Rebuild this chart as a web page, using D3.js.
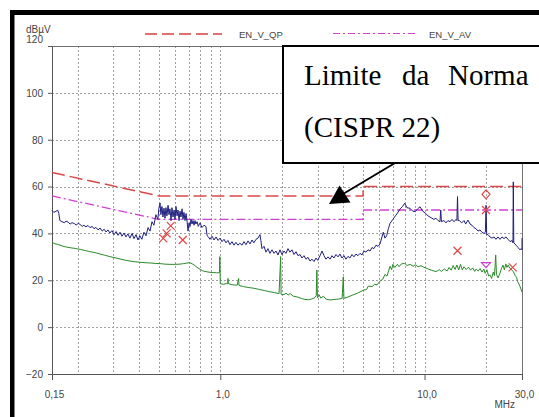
<!DOCTYPE html>
<html>
<head>
<meta charset="utf-8">
<script src="https://cdn.jsdelivr.net/npm/d3@7"></script>
<style>
  html, body { margin: 0; padding: 0; background: #fff; }
  svg { display: block; }
  text { font-family: "Liberation Sans", Arial, sans-serif; }
  text.note { font-family: "Liberation Serif", "Times New Roman", serif; }
</style>
</head>
<body>
<svg id="chart" width="539" height="417"></svg>
<script>
// Frequency axis (MHz) and level axis (dBµV)
const xDomain = [0.15, 30];
const yDomain = [-20, 120];
const xTickValues = [0.15, 1, 10, 30];
const xTickLabels = ["0,15", "1,0", "10,0", "30,0"];
const yTickValues = [-20, 0, 20, 40, 60, 80, 100, 120];
const xGridValues = [0.2, 0.3, 0.4, 0.5, 0.6, 0.7, 0.8, 0.9, 1, 2, 3, 4, 5, 6, 7, 8, 9, 10, 20];
const yGridValues = [0, 20, 40, 60, 80, 100];

// CISPR 22 class B conducted limits [MHz, dBµV]
const limitQP = [[0.15, 66], [0.5, 56], [5, 56], [5, 60], [30, 60]];
const limitAV = [[0.15, 56], [0.5, 46], [5, 46], [5, 50], [30, 50]];

// Peak scan [MHz, dBµV]
const peakScan = [
  [0.150,49.8],[0.153,49.0],[0.157,49.5],[0.160,49.9],[0.162,48.5],[0.164,45.5],[0.168,45.0],[0.172,44.6],
  [0.176,45.2],[0.180,44.8],[0.184,44.0],[0.188,44.6],[0.193,44.2],[0.197,43.6],[0.202,44.3],[0.206,43.8],
  [0.211,43.0],[0.215,43.5],[0.220,42.8],[0.225,43.4],[0.230,42.5],[0.236,43.0],[0.241,42.0],[0.246,42.6],
  [0.252,41.5],[0.258,42.3],[0.264,41.0],[0.270,41.8],[0.276,40.6],[0.282,41.5],[0.288,40.2],[0.295,41.2],
  [0.302,39.5],[0.309,40.8],[0.316,39.2],[0.323,40.5],[0.330,38.8],[0.338,40.2],[0.345,38.5],[0.353,39.8],
  [0.361,38.0],[0.370,40.0],[0.378,37.8],[0.387,39.5],[0.395,37.2],[0.404,39.0],[0.413,37.5],[0.423,40.5],
  [0.433,39.0],[0.443,42.5],[0.453,41.0],[0.463,45.0],[0.473,43.5],[0.484,48.0],[0.495,46.0],[0.500,50.5],
  [0.507,53.0],[0.512,48.0],[0.518,51.5],[0.524,47.0],[0.530,50.8],[0.536,46.5],[0.542,51.0],[0.548,47.5],
  [0.555,52.0],[0.561,48.0],[0.567,50.5],[0.574,45.5],[0.580,51.0],[0.587,47.0],[0.594,50.0],[0.600,46.0],
  [0.607,51.5],[0.614,47.5],[0.621,50.0],[0.628,45.5],[0.635,49.5],[0.642,47.0],[0.650,50.5],[0.657,46.0],
  [0.664,49.0],[0.672,45.5],[0.680,48.5],[0.688,45.0],[0.695,41.0],[0.703,44.5],[0.711,43.0],[0.719,46.0],
  [0.727,44.0],[0.735,45.5],[0.744,43.5],[0.752,45.5],[0.760,44.0],[0.770,45.0],[0.780,43.0],[0.796,44.5],
  [0.813,42.5],[0.832,43.5],[0.850,43.0],[0.862,39.0],[0.875,38.5],[0.890,37.5],[0.911,38.8],[0.932,37.2],
  [0.953,38.5],[0.975,37.0],[0.997,38.0],[1.02,36.5],[1.043,37.5],[1.066,36.0],[1.09,37.0],[1.115,35.2],
  [1.141,36.5],[1.167,35.0],[1.193,36.2],[1.22,35.0],[1.248,35.8],[1.277,35.0],[1.306,36.5],[1.336,35.2],
  [1.367,36.8],[1.398,35.5],[1.43,37.2],[1.46,36.0],[1.496,37.5],[1.53,38.0],[1.564,39.5],[1.58,37.0],
  [1.60,33.5],[1.637,34.5],[1.674,32.0],[1.712,33.5],[1.75,31.5],[1.791,33.0],[1.832,31.5],[1.874,32.5],
  [1.916,30.8],[1.96,33.0],[2.005,31.0],[2.05,32.5],[2.097,31.5],[2.145,33.5],[2.194,32.0],[2.244,33.0],
  [2.296,31.0],[2.348,32.2],[2.40,30.5],[2.456,31.0],[2.512,29.5],[2.569,30.5],[2.628,29.0],[2.688,29.8],
  [2.75,28.2],[2.812,29.0],[2.876,28.0],[2.942,29.5],[3.0,28.5],[3.078,30.5],[3.15,32.5],[3.219,30.5],
  [3.29,29.0],[3.368,30.0],[3.445,29.0],[3.523,30.5],[3.6,29.5],[3.686,31.0],[3.77,30.0],[3.855,31.2],
  [3.94,29.5],[4.033,30.5],[4.12,29.0],[4.218,30.2],[4.31,29.5],[4.413,31.0],[4.51,30.0],[4.617,31.2],
  [4.72,30.5],[4.83,31.5],[4.94,30.8],[5.053,32.5],[5.17,32.0],[5.286,33.0],[5.41,32.5],[5.529,34.0],
  [5.65,33.5],[5.785,35.0],[5.92,34.5],[6.052,35.5],[6.28,40.5],[6.4,38.0],[6.52,39.0],[6.65,42.0],
  [6.78,44.3],[7.0,46.0],[7.2,47.5],[7.36,48.6],[7.6,50.5],[7.8,51.5],[8.0,52.9],[8.2,51.0],
  [8.5,50.7],[8.75,49.5],[9.0,49.3],[9.25,50.5],[9.5,51.4],[9.8,49.5],[10.1,48.6],[10.4,47.5],
  [10.63,47.0],[10.87,46.5],[11.12,46.0],[11.38,46.5],[11.64,45.5],[11.90,45.0],[12.0,50.0],[12.1,45.0],
  [12.45,45.5],[12.73,44.5],[13.02,45.5],[13.32,45.0],[13.63,46.0],[13.94,45.0],[14.26,46.0],[14.4,45.5],
  [14.5,55.7],[14.6,45.5],[14.8,45.5],[15.2,44.5],[15.60,45.5],[15.9,44.0],[16.32,45.7],[16.7,44.0],
  [17.07,43.5],[17.45,42.5],[17.86,42.0],[18.27,41.0],[18.69,41.5],[19.1,40.5],[19.55,40.0],[19.85,40.5],
  [20.0,52.0],[20.15,39.5],[20.45,39.5],[20.9,38.5],[21.39,38.0],[21.9,38.5],[22.38,37.5],[22.9,38.5],
  [23.41,37.5],[23.95,38.5],[24.49,37.8],[25.05,38.5],[25.62,37.5],[26.2,36.5],[26.81,37.0],[27.1,36.0],
  [27.2,62.0],[27.35,36.0],[28.04,35.0],[28.7,34.0],[29.34,33.0],[29.7,33.5],[30.0,33.0],[30.0,38.0]
];

// Average scan [MHz, dBµV]
const averageScan = [
  [0.150,36.2],[0.155,35.6],[0.160,35.3],[0.164,35.0],[0.172,34.4],[0.184,33.9],[0.195,33.6],[0.206,33.2],
  [0.218,32.7],[0.230,32.2],[0.244,31.8],[0.258,31.2],[0.272,30.7],[0.288,30.1],[0.305,29.6],[0.323,29.1],
  [0.342,28.6],[0.361,28.2],[0.382,27.9],[0.404,27.7],[0.428,27.5],[0.453,27.4],[0.480,27.2],[0.507,27.1],
  [0.535,26.9],[0.567,26.8],[0.600,26.8],[0.635,26.9],[0.660,27.1],[0.680,27.3],[0.710,27.5],[0.730,27.0],
  [0.745,26.5],[0.770,25.5],[0.796,24.7],[0.820,24.0],[0.850,23.7],[0.890,23.4],[0.930,23.3],[0.960,23.2],
  [0.990,23.2],[0.995,30.1],[1.0,18.5],[1.04,18.3],[1.07,18.6],[1.085,18.5],[1.09,20.8],[1.095,18.6],
  [1.13,18.2],[1.17,18.0],[1.21,17.9],[1.23,20.8],[1.235,17.8],[1.30,17.3],[1.38,16.9],[1.46,16.6],
  [1.55,16.1],[1.65,15.6],[1.75,15.1],[1.85,14.7],[1.94,14.3],[1.975,30.1],[1.985,14.0],[2.05,13.9],
  [2.10,14.5],[2.15,13.7],[2.20,14.3],[2.28,13.2],[2.40,12.8],[2.50,12.2],[2.60,11.8],[2.70,11.7],
  [2.80,12.0],[2.90,12.6],[2.95,13.5],[2.97,24.4],[2.99,12.5],[3.05,13.8],[3.10,12.4],[3.20,13.2],
  [3.30,11.9],[3.46,11.6],[3.60,11.8],[3.80,12.0],[3.95,12.3],[4.00,21.5],[4.03,12.3],[4.20,12.8],
  [4.45,13.7],[4.70,14.5],[5.05,15.9],[5.20,16.0],[5.30,17.5],[5.53,17.3],[5.70,18.3],[5.85,18.0],
  [6.08,19.8],[6.25,20.5],[6.40,22.5],[6.55,21.8],[6.78,26.0],[6.90,24.5],[7.00,26.8],[7.15,25.5],
  [7.36,26.8],[7.50,25.8],[7.70,27.0],[8.00,27.2],[8.20,26.3],[8.50,26.8],[8.80,26.0],[9.00,26.6],
  [9.30,25.8],[9.60,26.2],[9.90,25.6],[10.3,25.0],[10.8,24.3],[11.4,23.7],[11.8,24.5],[12.1,23.8],
  [12.5,24.8],[12.9,24.0],[13.2,25.5],[13.5,24.3],[13.8,26.3],[14.1,24.6],[14.4,26.5],[14.7,24.4],
  [15.0,26.8],[15.3,24.5],[15.6,25.8],[16.0,24.6],[16.4,25.6],[16.8,24.3],[17.2,25.3],[17.6,23.8],
  [17.9,24.8],[18.3,24.0],[18.7,25.0],[19.1,23.5],[19.5,24.8],[19.8,23.0],[20.2,24.5],[20.6,21.8],
  [20.9,22.3],[21.3,20.8],[21.7,23.5],[22.0,22.0],[22.3,30.8],[22.5,22.5],[22.9,21.0],[23.4,23.0],
  [23.8,25.0],[24.2,26.5],[24.6,24.5],[25.0,27.0],[25.3,25.5],[25.7,26.5],[26.1,25.2],[26.5,24.8],
  [27.2,23.7],[27.8,22.0],[28.2,21.3],[28.6,19.4],[29.3,17.5],[30.0,15.0]
];

// Final measurement markers [MHz, dBµV]
const qpFinals = [[0.526,37.9],[0.546,40.0],[0.572,43.2],[0.655,37.2],[14.5,32.6],[20.0,50.0],[27.0,25.5]];
const qpDiamond = [[20.0,56.7]];
const avTriangle = [[20.0,26.5]];

const legendItems = ["EN_V_QP", "EN_V_AV"];
const unitY = "dBµV";
const unitX = "MHz";
const noteLine1 = ["Limite", "da", "Norma"];
const noteLine2 = "(CISPR 22)";

const svg = d3.select("#chart");
const x = d3.scaleLog().domain(xDomain).range([52, 522]);
const y = d3.scaleLinear().domain(yDomain).range([374, 46]);

// frame bands
svg.append("rect").attr("x", 10).attr("y", 10).attr("width", 529).attr("height", 5).attr("fill", "#000");
svg.append("rect").attr("x", 10).attr("y", 10).attr("width", 4.5).attr("height", 407).attr("fill", "#000");

// grid
const grid = svg.append("g").attr("stroke", "#a0a0a0").attr("stroke-width", 1).attr("stroke-dasharray", "2,2");
grid.selectAll(".vg").data(xGridValues).join("line")
  .attr("x1", d => Math.round(x(d)) + 0.5).attr("x2", d => Math.round(x(d)) + 0.5)
  .attr("y1", y(120)).attr("y2", y(-20));
grid.selectAll(".hg").data(yGridValues).join("line")
  .attr("x1", x(0.15)).attr("x2", x(30))
  .attr("y1", d => Math.round(y(d)) + 0.5).attr("y2", d => Math.round(y(d)) + 0.5);

// frame of plot
svg.append("line").attr("x1", 52).attr("x2", 522).attr("y1", 46.5).attr("y2", 46.5).attr("stroke", "#707070");
svg.append("line").attr("x1", 522.5).attr("x2", 522.5).attr("y1", 46).attr("y2", 374).attr("stroke", "#707070");

// axes
const xAxis = d3.axisBottom(x).tickValues(xTickValues).tickSize(6)
  .tickFormat((d, i) => xTickLabels[i]);
const gx = svg.append("g").attr("transform", "translate(0,374)").call(xAxis);
gx.select(".domain").attr("stroke", "#555");
gx.selectAll(".tick line").attr("stroke", "#555");
gx.selectAll(".tick text").attr("font-size", 10).attr("fill", "#444").attr("dx", 2).attr("dy", "1.45em");

const yAxis = d3.axisLeft(y).tickValues(yTickValues).tickSize(4).tickFormat(d3.format("d"));
const gy = svg.append("g").attr("transform", "translate(52,0)").call(yAxis);
gy.select(".domain").attr("stroke", "#555");
gy.selectAll(".tick line").attr("stroke", "#555");
gy.selectAll(".tick text").attr("font-size", 10).attr("fill", "#444").attr("x", -9)
  .attr("dy", d => d === 120 ? "-0.38em" : "0.34em");

svg.append("text").attr("x", 26).attr("y", 33).attr("font-size", 10).attr("fill", "#444").text(unitY);
svg.append("text").attr("x", 515).attr("y", 408).attr("text-anchor", "end").attr("font-size", 10).attr("fill", "#444").text(unitX);

// legend
svg.append("line").attr("x1", 145).attr("x2", 222).attr("y1", 34).attr("y2", 34)
  .attr("stroke", "#d94040").attr("stroke-width", 1.3).attr("stroke-dasharray", "12,5");
svg.append("text").attr("x", 239).attr("y", 37.5).attr("font-size", 9.5).attr("fill", "#444").text(legendItems[0]);
svg.append("line").attr("x1", 333).attr("x2", 416).attr("y1", 33.5).attr("y2", 33.5)
  .attr("stroke", "#d040d0").attr("stroke-width", 1.2).attr("stroke-dasharray", "7,3,2,3");
svg.append("text").attr("x", 429).attr("y", 37.5).attr("font-size", 9.5).attr("fill", "#444").text(legendItems[1]);

const line = d3.line().x(d => x(d[0])).y(d => y(d[1]));

// limits
svg.append("path").datum(limitQP).attr("d", line).attr("fill", "none")
  .attr("stroke", "#d94848").attr("stroke-width", 1.5).attr("stroke-dasharray", "13,5");
svg.append("path").datum(limitAV).attr("d", line).attr("fill", "none")
  .attr("stroke", "#d040d0").attr("stroke-width", 1.3).attr("stroke-dasharray", "9,3,2,3");

// scans
svg.append("path").datum(averageScan).attr("d", line).attr("fill", "none")
  .attr("stroke", "#2a8a2a").attr("stroke-width", 1);
svg.append("path").datum(peakScan).attr("d", line).attr("fill", "none")
  .attr("stroke", "#1e1e7e").attr("stroke-width", 1);

// markers
const cross = svg.append("g").attr("stroke", "#e04848").attr("stroke-width", 1.2);
qpFinals.forEach(d => {
  const cx = x(d[0]), cy = y(d[1]);
  cross.append("path").attr("d", `M${cx-4},${cy-4}L${cx+4},${cy+4}M${cx-4},${cy+4}L${cx+4},${cy-4}`);
});
svg.selectAll(".dia").data(qpDiamond).join("path")
  .attr("d", d => { const cx = x(d[0]), cy = y(d[1]); return `M${cx},${cy-4.5}L${cx+4},${cy}L${cx},${cy+4.5}L${cx-4},${cy}Z`; })
  .attr("fill", "none").attr("stroke", "#e04848").attr("stroke-width", 1.2);
svg.selectAll(".tri").data(avTriangle).join("path")
  .attr("d", d => { const cx = x(d[0]), cy = y(d[1]); return `M${cx-4.5},${cy-2.5}L${cx+4.5},${cy-2.5}L${cx},${cy+2.5}Z`; })
  .attr("fill", "none").attr("stroke", "#d040d0").attr("stroke-width", 1.2);

// annotation
svg.append("rect").attr("x", 283).attr("y", 46).attr("width", 270).attr("height", 117)
  .attr("fill", "#fff").attr("stroke", "#000").attr("stroke-width", 2);
const noteX = [304, 402, 448];
noteLine1.forEach((w, i) => {
  svg.append("text").attr("class", "note").attr("x", noteX[i]).attr("y", 85)
    .attr("font-size", 29).attr("fill", "#000").text(w);
});
svg.append("text").attr("class", "note").attr("x", 304).attr("y", 137)
  .attr("font-size", 29).attr("fill", "#000").text(noteLine2);
svg.append("line").attr("x1", 395).attr("y1", 163).attr("x2", 343).attr("y2", 194)
  .attr("stroke", "#000").attr("stroke-width", 2);
svg.append("path").attr("d", "M329,204L339.5,185.5L350.5,202.5Z").attr("fill", "#000");
</script>
</body>
</html>
